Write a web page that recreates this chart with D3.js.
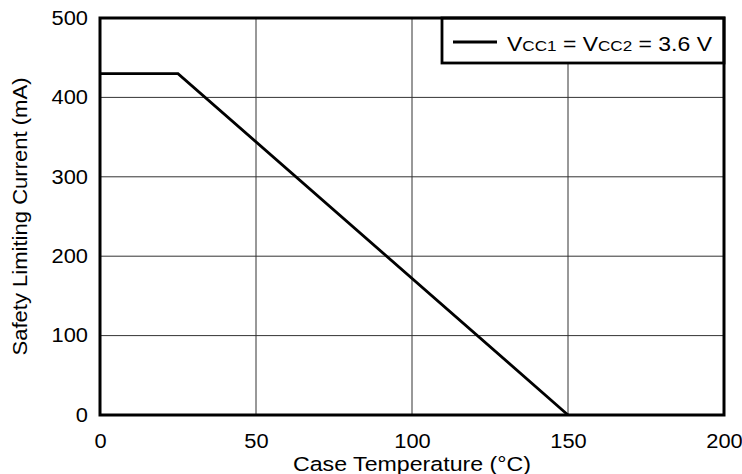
<!DOCTYPE html>
<html>
<head>
<meta charset="utf-8">
<script src="https://cdn.jsdelivr.net/npm/d3@7"></script>
<style>
  body { margin: 0; background: #fff; }
  text { font-family: "Liberation Sans", Arial, sans-serif; fill: #000; }
</style>
</head>
<body>
<script>
// chart data
var temps = [0, 25, 150];
var currents = [430, 430, 0];
var xTicks = [0, 50, 100, 150, 200];
var yTicks = [0, 100, 200, 300, 400, 500];

var width = 742, height = 474;
var margin = {top: 18, right: 18, bottom: 59, left: 100};
var w = width - margin.left - margin.right,
    h = height - margin.top - margin.bottom;

var svg = d3.select("body").append("svg")
    .attr("width", width)
    .attr("height", height);

var g = svg.append("g")
    .attr("transform", "translate(" + margin.left + "," + margin.top + ")");

var x = d3.scaleLinear().domain([0, 200]).range([0, w]);
var y = d3.scaleLinear().domain([0, 500]).range([h, 0]);

// the reference text is a bit wider than plain Arial, stretch it
function widen(sel, k) {
  sel.each(function() {
    var len = this.getComputedTextLength();
    d3.select(this).attr("textLength", len * k).attr("lengthAdjust", "spacingAndGlyphs");
  });
}

// grid lines
g.append("g").selectAll("line").data(xTicks).enter().append("line")
    .attr("x1", d => x(d)).attr("x2", d => x(d))
    .attr("y1", 0).attr("y2", h)
    .attr("stroke", "#333").attr("stroke-width", 1);
g.append("g").selectAll("line").data(yTicks).enter().append("line")
    .attr("y1", d => y(d)).attr("y2", d => y(d))
    .attr("x1", 0).attr("x2", w)
    .attr("stroke", "#333").attr("stroke-width", 1);

// axes (labels only)
var xAxis = g.append("g")
    .attr("transform", "translate(0," + h + ")")
    .call(d3.axisBottom(x).tickValues(xTicks).tickSize(0).tickPadding(19));
var yAxis = g.append("g")
    .call(d3.axisLeft(y).tickValues(yTicks).tickSize(0).tickPadding(12));
[xAxis, yAxis].forEach(function(a) {
  a.select(".domain").remove();
  a.selectAll("text")
    .attr("font-size", 19.5)
    .attr("font-family", "Liberation Sans, Arial, sans-serif")
    .call(widen, 1.12);
});

// data line
var line = d3.line().x((d, i) => x(temps[i])).y(d => y(d));
g.append("path")
    .datum(currents)
    .attr("d", line)
    .attr("fill", "none")
    .attr("stroke", "#000")
    .attr("stroke-width", 2.8);

// legend box
var lg = g.append("g");
lg.append("rect")
    .attr("x", 342).attr("y", 0)
    .attr("width", w - 342).attr("height", 45)
    .attr("fill", "#fff").attr("stroke", "#000").attr("stroke-width", 2.8);
lg.append("line")
    .attr("x1", 353).attr("x2", 397)
    .attr("y1", 24).attr("y2", 24)
    .attr("stroke", "#000").attr("stroke-width", 2.8);
var lt = lg.append("text")
    .attr("x", 407).attr("y", 33)
    .attr("font-size", 19.5)
    .attr("textLength", 205)
    .attr("lengthAdjust", "spacingAndGlyphs");
lt.append("tspan").text("V");
lt.append("tspan").attr("font-size", 14.5).text("CC1");
lt.append("tspan").text(" = V");
lt.append("tspan").attr("font-size", 14.5).text("CC2");
lt.append("tspan").text(" = 3.6 V");

// plot border
g.append("rect")
    .attr("x", 0).attr("y", 0)
    .attr("width", w).attr("height", h)
    .attr("fill", "none").attr("stroke", "#000").attr("stroke-width", 3);

// axis titles
svg.append("text")
    .attr("x", margin.left + w / 2).attr("y", 471)
    .attr("text-anchor", "middle").attr("font-size", 20.5)
    .attr("textLength", 238).attr("lengthAdjust", "spacingAndGlyphs")
    .text("Case Temperature (°C)");
svg.append("text")
    .attr("transform", "translate(27," + (margin.top + h / 2) + ") rotate(-90)")
    .attr("text-anchor", "middle").attr("font-size", 19.5)
    .attr("textLength", 278).attr("lengthAdjust", "spacingAndGlyphs")
    .text("Safety Limiting Current (mA)");
</script>
</body>
</html>
